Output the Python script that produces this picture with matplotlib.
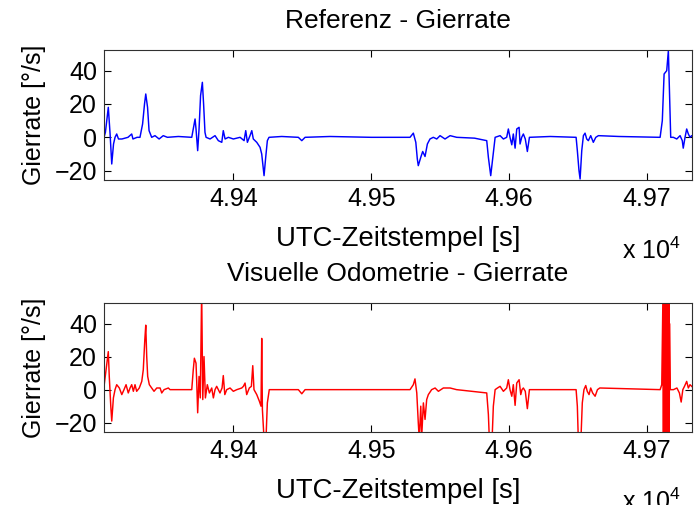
import matplotlib
matplotlib.use("Agg")
import matplotlib.pyplot as plt
from matplotlib.ticker import FuncFormatter

plt.rcParams['font.family'] = ['Liberation Sans', 'DejaVu Sans']
plt.rcParams['mathtext.default'] = 'regular'

# Gierrate der Referenz (UTC-Zeit [s], Gierrate [deg/s])
ref_t = [49306, 49307, 49309.1, 49310.4, 49311.6, 49312.9, 49314, 49315.2, 49316.5, 49319,
         49323.4, 49326.1, 49327, 49330, 49332.1, 49334, 49335.4, 49336.3, 49337.6, 49338.7,
         49340.6, 49343, 49346, 49349, 49352, 49360, 49369.7, 49370.8, 49372.1, 49372.8,
         49374, 49375, 49376.1, 49377.4, 49378.3, 49379.3, 49380.1, 49383, 49386.6, 49389,
         49391.5, 49392.6, 49393.9, 49396.3, 49399.9, 49404.8, 49407.7, 49408.9, 49410.1, 49412,
         49413.3, 49414.4, 49415.7, 49416.9, 49419.3, 49420.5, 49421.5, 49422.2, 49423.4, 49424.6,
         49425.8, 49435, 49447.1, 49449.6, 49452, 49470, 49500, 49528.2, 49530.6, 49532.4,
         49533.5, 49534.2, 49536, 49537.4, 49539.1, 49540.8, 49542.7, 49545.1, 49547.6, 49550,
         49553.6, 49557.3, 49562.1, 49575, 49583.9, 49585.1, 49586.8, 49588.3, 49590, 49593.6,
         49596, 49598.4, 49599.6, 49600.8, 49602.1, 49603.2, 49604.5, 49605.7, 49607.4, 49608.1,
         49609.3, 49610.5, 49611.9, 49613.4, 49614.9, 49630, 49648.8, 49649.7, 49650.9, 49651.7,
         49652.9, 49654.1, 49655.3, 49656.5, 49657.7, 49659.4, 49661.3, 49663.1, 49665, 49680,
         49709.8, 49711.4, 49712.7, 49714.6, 49715.8, 49716.5, 49717.5, 49719.4, 49721.9, 49724.3,
         49725.9, 49726.6, 49727.9, 49729.1, 49730.3, 49731.5, 49732.7, 49734]
ref_rate = [0, 3, 18, 2, -16, -4, 0, 2, -1, -1,
            0, 2, -1, 0, 0, 8, 20, 26, 18, 4,
            0, 1, -1, 1, 0, 0.5, 0, 5, 11, 5,
            -8, 5, 25, 33, 20, 3, 0, -1, 1, -2,
            -3, 4, -1, 0, -1, 0, -2, 4, -3, 1,
            4, -1, -2, -3, -6, -10, -18, -23, -12, -2,
            0, 0.5, 0, -2, 0, 0.5, 0, 0, 2.5, -3,
            -13, -17, -12, -8.5, -11.5, -4, -1, 0, -1, 1,
            -1, 1, 0, -0.5, -2, -12, -23, -12, 0, 1,
            -1, 0, 5, 0, -4.5, 2, -6.5, 5, 6, -4,
            0, 2, -1, -8.5, 0, 0.5, 0, -8, -20, -25,
            -8, 1, 2.5, -1, -2, 1, -3, 0, 1, 0.5,
            0, 10, 38, 40, 52, 30, 0, 0, -1, 1,
            -2, -6.5, 0, 5, 2, 0, 1, 0]

# Gierrate aus der visuellen Odometrie
vo_t = [49306, 49308.4, 49309.1, 49309.8, 49310.9, 49311.6, 49312.8, 49314, 49315.2, 49317.1,
        49318.9, 49320.5, 49322, 49323.6, 49324.9, 49326.1, 49327.3, 49328.5, 49329.7, 49331.6,
        49333.4, 49334.5, 49335.6, 49336.3, 49337, 49337.7, 49338.9, 49340.6, 49342.3, 49344.3,
        49346.7, 49347.9, 49349.6, 49352.7, 49353.9, 49369.7, 49370.8, 49371.6, 49372.8, 49373.3,
        49374, 49375, 49375.9, 49376.9, 49377.7, 49378.6, 49379.6, 49381, 49382.5, 49384.2,
        49385.4, 49386.6, 49387.8, 49390.2, 49391.7, 49392.6, 49393.7, 49395.1, 49397.5, 49399.9,
        49402.4, 49406, 49407.2, 49408.4, 49409.6, 49411.5, 49413, 49414, 49414.9, 49416.9,
        49418.8, 49420, 49420.5, 49421, 49421.7, 49422.2, 49423.6, 49424.6, 49426, 49447.1,
        49449.6, 49452, 49528.2, 49530.6, 49531.8, 49533.1, 49534.2, 49534.9, 49536, 49536.7,
        49537.9, 49539.1, 49540.3, 49541.5, 49543.9, 49546.4, 49548.8, 49552.4, 49557.3, 49562,
        49583.9, 49585.1, 49585.8, 49587.8, 49588.7, 49590, 49591.7, 49593.6, 49596, 49598.4,
        49599.6, 49600.8, 49602.1, 49603.2, 49604.5, 49605.7, 49607.4, 49608.6, 49609.5, 49610.5,
        49611.9, 49613.4, 49614.9, 49648.8, 49649.7, 49650.4, 49652.3, 49653.3, 49654.5, 49655.8,
        49656.9, 49658.2, 49659.4, 49660.8, 49662.6, 49664.3, 49666, 49709.8, 49711,
        49711.9, 49712.2, 49712.5, 49712.8, 49713.1, 49713.4, 49713.7, 49714.0, 49714.3, 49714.6,
        49714.9, 49715.2, 49715.5, 49715.8, 49716.1, 49716.4, 49716.6,
        49717.2, 49719.5, 49722, 49723.8, 49725.1, 49726.3, 49727.5, 49729.1, 49730.3, 49731.5,
        49734]
vo_rate = [2, 18, 23, 8, -10, -19, -5, 0, 3, 1,
           -3, 0, 3, -2, 1, 3, -1, 3, -1, 1,
           5, 12, 30, 39, 20, 8, 3, 1, -1, 1,
           1, -2, 0, 1, 0, 0, 12, 19, 16, 5,
           -14, 8, -5, 60, -6, 20, -5, 3, -2, 1,
           -5, 0, 2, -2, 1, 8.5, -3, 0, 1, -1,
           0, 1, 2, 4, -3, 1, 2, 14.5, 0, -3,
           -7, -10, 31, -12, -22, -30, -30, -8, 0, 0,
           -2.5, 0, 0, 3, 6.5, -2, -20, -30, -10, -28,
           -8, -18, -6, -3, 0, 1, -1, 1, 1, 0,
           -2, -15, -30, -30, -10, 0, 1, 2, -1, 1,
           6, 0, -4, 3, -9.5, 4, 6, -3, 0, 1,
           -1, -11.5, 0, 0, -10, -30, -30, -8, 0, 2.5,
           -1, -3, 1, -2, -4, 0, 1, 0, 3,
           60, -35, 70, -40, 80, -45, 85, -50, 90, -50,
           85, -45, 80, -40, 70, -35, 40,
           0, 0, 1, -2, -7.5, 0, 2, 5, 1, 3,
           1]

x_ticks = [49400, 49500, 49600, 49700]
y_ticks = [-20, 0, 20, 40]

fig = plt.figure(figsize=(6.94, 5.05), dpi=100)
ax1 = fig.add_axes([0.1499, 0.6436, 0.8473, 0.2574])
ax2 = fig.add_axes([0.1499, 0.1446, 0.8473, 0.2554])

panels = [(ax1, ref_t, ref_rate, 'blue', 'Referenz - Gierrate'),
          (ax2, vo_t, vo_rate, 'red', 'Visuelle Odometrie - Gierrate')]

for ax, t, rate, col, title in panels:
    ax.plot(t, rate, color=col, linewidth=1.05)
    ax.set_xlim(49306, 49733)
    ax.set_ylim(-25.6, 52.4)
    ax.set_xticks(x_ticks)
    ax.set_yticks(y_ticks)
    ax.xaxis.set_major_formatter(FuncFormatter(lambda v, p: '%.2f' % (v / 1e4)))
    ax.tick_params(direction='in', length=5, width=0.8, top=True, right=True,
                   labelsize=18, pad=5, colors='black')
    for sp in ax.spines.values():
        sp.set_linewidth(0.8)
        sp.set_color('#303030')
    ax.set_title(title, fontsize=19, pad=15.5)
    ax.set_xlabel('UTC-Zeitstempel [s]', fontsize=19.8, labelpad=11)
    ax.set_ylabel('Gierrate [°/s]', fontsize=18, labelpad=6)
    ax.text(0.98, -0.545, 'x 10$^{4}$', transform=ax.transAxes,
            ha='right', va='center', fontsize=18)

fig.savefig('out.png', dpi=100)
